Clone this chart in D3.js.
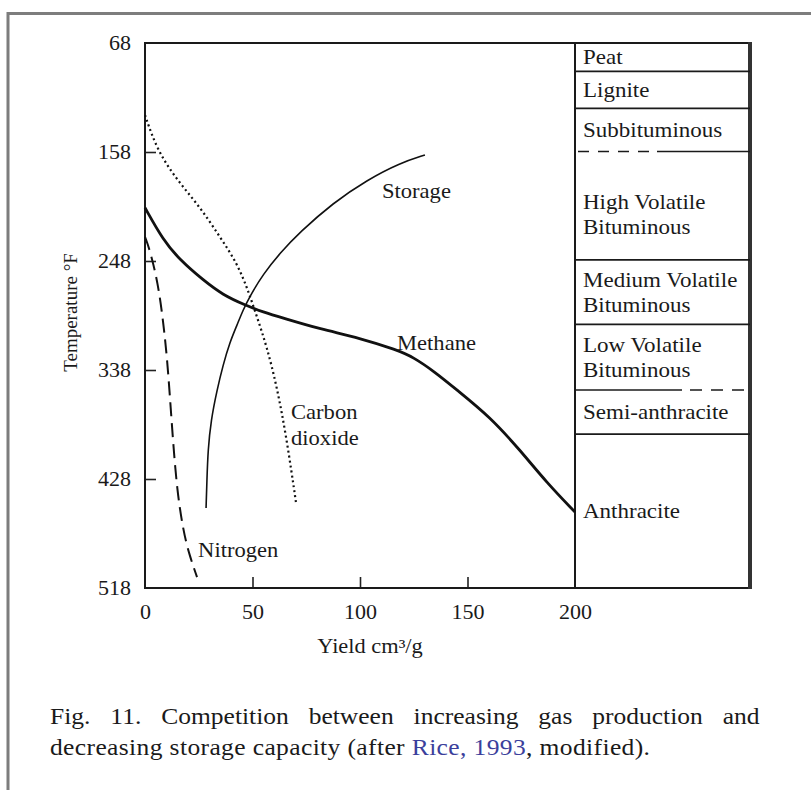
<!DOCTYPE html>
<html>
<head>
<meta charset="utf-8">
<script src="https://cdn.jsdelivr.net/npm/d3@7"></script>
<style>
body { margin: 0; background: #fff; }
svg text { font-family: "Liberation Serif", "Times New Roman", serif; fill: #1a1a1a; }
</style>
</head>
<body>
<div id="chart" style="width:811px;height:790px;"></div>
<script>

// axis ticks
const yieldTicks = [0, 50, 100, 150, 200];
const tempTicks = [68, 158, 248, 338, 428, 518];

// curves: yield (cm3/g) vs temperature (F)
const methaneYield = [0, 8.4, 16.3, 27, 36.3, 46.5, 54.9, 64.2, 81.4, 100, 117.2, 124.7, 134.9, 145.1, 160.5, 174.4, 187, 200];
const methaneTemp  = [204, 230.7, 247.2, 263.7, 276.1, 284.3, 290.1, 295.1, 304.2, 311.6, 321.5, 327.3, 339.7, 354.5, 376.8, 404.1, 431.3, 455.3];

const storageYield = [28.4, 28.8, 29.3, 30.7, 33.5, 36.3, 39.5, 42.8, 45.6, 48.8, 54.9, 62.8, 72.1, 87.4, 103.3, 118.6, 130.2];
const storageTemp  = [452, 428.9, 404.1, 379.3, 354.5, 333.9, 314.9, 300.9, 288.5, 277, 259, 241.4, 224.1, 200.1, 181.1, 167.1, 160.5];

const co2Yield = [0, 5.6, 14.9, 25.6, 34.9, 42.8, 47.9, 52.1, 56.7, 61.4, 66, 70.2];
const co2Temp  = [127.5, 156.4, 181.2, 203.4, 228.2, 249.7, 272, 294.3, 319, 352.1, 395.8, 447];

const nitrogenYield = [0, 2.3, 6, 8.4, 10.2, 11.6, 13, 14.9, 17.7, 20.5, 24.2];
const nitrogenTemp  = [228, 239, 266, 297, 327, 360, 396, 437, 470, 490, 509];

// coal rank column
const rankNames = [["Peat"], ["Lignite"], ["Subbituminous"], ["High Volatile", "Bituminous"],
    ["Medium Volatile", "Bituminous"], ["Low Volatile", "Bituminous"], ["Semi-anthracite"], ["Anthracite"]];
const rankTops = [68, 91.5, 122, 157.6, 247, 300.3, 354.5, 391];


class GasYieldVis {

    constructor(_parentElement) {
        this.parentElement = _parentElement;
        this.initVis();
    }

    initVis() {
        let vis = this;

        vis.width = 811;
        vis.height = 790;
        vis.plot = {left: 145, right: 575, top: 43, bottom: 588, rankRight: 750};

        vis.svg = d3.select("#" + vis.parentElement).append("svg")
            .attr("width", vis.width)
            .attr("height", vis.height);

        vis.x = d3.scaleLinear().domain([0, 200]).range([vis.plot.left, vis.plot.right]);
        vis.y = d3.scaleLinear().domain([68, 518]).range([vis.plot.top, vis.plot.bottom]);

        // page frame (top + left only)
        vis.svg.append("path")
            .attr("d", "M8,790 L8,13.5 L811,13.5")
            .attr("fill", "none")
            .attr("stroke", "#7d7d7d")
            .attr("stroke-width", 3);

        vis.drawAxes();
        vis.drawRanks();
        vis.drawCurves();
        vis.drawCaption();
    }

    stretch(sel, sx) {
        sel.each(function() {
            let t = d3.select(this);
            let x = +t.attr("x") || 0, y = +t.attr("y") || 0;
            t.attr("x", null).attr("y", null)
                .attr("transform", "translate(" + x + "," + y + ") scale(" + sx + ",1)");
        });
    }

    drawAxes() {
        let vis = this;
        let p = vis.plot;

        vis.yAxis = d3.axisLeft(vis.y)
            .tickValues(tempTicks)
            .tickSizeInner(-11)
            .tickSizeOuter(0)
            .tickPadding(14)
            .tickFormat(d3.format("d"));

        vis.xAxis = d3.axisBottom(vis.x)
            .tickValues(yieldTicks)
            .tickSizeInner(-11)
            .tickSizeOuter(0)
            .tickPadding(17)
            .tickFormat(d3.format("d"));

        let gy = vis.svg.append("g")
            .attr("class", "y-axis axis")
            .attr("transform", "translate(" + p.left + ",0)")
            .call(vis.yAxis);
        let gx = vis.svg.append("g")
            .attr("class", "x-axis axis")
            .attr("transform", "translate(0," + p.bottom + ")")
            .call(vis.xAxis);

        [gx, gy].forEach(g => {
            g.select(".domain").remove();
            g.selectAll(".tick line").attr("stroke", "#222").attr("stroke-width", 1.6);
            g.selectAll(".tick text").style("font-size", "20px");
            vis.stretch(g.selectAll(".tick text"), 1.1);
        });
        // no tick marks on the frame ends
        gy.selectAll(".tick line").filter(d => d === 68 || d === 518).remove();
        gx.selectAll(".tick line").filter(d => d === 0 || d === 200).remove();

        // plot frame
        vis.svg.append("rect")
            .attr("x", p.left).attr("y", p.top)
            .attr("width", p.rankRight - p.left)
            .attr("height", p.bottom - p.top)
            .attr("fill", "none")
            .attr("stroke", "#1a1a1a")
            .attr("stroke-width", 2);
        vis.svg.append("line")
            .attr("x1", p.right).attr("x2", p.right)
            .attr("y1", p.top).attr("y2", p.bottom)
            .attr("stroke", "#1a1a1a").attr("stroke-width", 2);
        vis.svg.append("line")
            .attr("x1", p.rankRight).attr("x2", p.rankRight)
            .attr("y1", p.top - 1).attr("y2", p.bottom + 1)
            .attr("stroke", "#333").attr("stroke-width", 4);

        // axis titles
        vis.svg.append("text")
            .attr("transform", "translate(77," + ((p.top + p.bottom) / 2 - 3) + ") rotate(-90)")
            .attr("text-anchor", "middle")
            .style("font-size", "19px")
            .text("Temperature \u00B0F");

        let xt = vis.svg.append("text")
            .attr("x", 370).attr("y", 653)
            .attr("text-anchor", "middle")
            .style("font-size", "20px")
            .text("Yield cm\u00B3/g");
        vis.stretch(xt, 1.12);
    }

    drawRanks() {
        let vis = this;
        let p = vis.plot;
        let bottoms = rankTops.slice(1).concat([518]);

        // boundaries between ranks; two of them are partly dashed
        rankTops.slice(1).forEach(t => {
            let yy = vis.y(t);
            let seg = (x1, x2, dash) => vis.svg.append("line")
                .attr("x1", x1).attr("x2", x2)
                .attr("y1", yy).attr("y2", yy)
                .attr("stroke", "#1a1a1a").attr("stroke-width", 1.7)
                .attr("stroke-dasharray", dash);
            if (t === 157.6) {
                seg(p.right + 3, 657, "11,9");
                seg(657, p.rankRight, null);
            } else if (t === 354.5) {
                seg(p.right, 682, null);
                seg(690, p.rankRight, "12,9");
            } else {
                seg(p.right, p.rankRight, null);
            }
        });

        let lineH = 25;
        rankNames.forEach((lines, i) => {
            let mid = (vis.y(rankTops[i]) + vis.y(bottoms[i])) / 2;
            if (lines[0] === "High Volatile") mid += 9;
            let t0 = mid - (lines.length - 1) * lineH / 2;
            lines.forEach((s, j) => {
                let tx = vis.svg.append("text")
                    .attr("x", p.right + 8)
                    .attr("y", t0 + j * lineH + 7)
                    .style("font-size", "20px")
                    .text(s);
                vis.stretch(tx, 1.15);
            });
        });
    }

    drawCurves() {
        let vis = this;

        vis.line = d3.line()
            .x(d => vis.x(d[0]))
            .y(d => vis.y(d[1]))
            .curve(d3.curveBasis);

        let series = [
            {xs: nitrogenYield, ts: nitrogenTemp, w: 2, dash: "14,7"},
            {xs: co2Yield, ts: co2Temp, w: 2.2, dash: "2,3"},
            {xs: storageYield, ts: storageTemp, w: 1.6, dash: null},
            {xs: methaneYield, ts: methaneTemp, w: 2.8, dash: null}
        ];

        series.forEach(s => {
            vis.svg.append("path")
                .datum(d3.zip(s.xs, s.ts))
                .attr("d", vis.line)
                .attr("fill", "none")
                .attr("stroke", "#111")
                .attr("stroke-width", s.w)
                .attr("stroke-dasharray", s.dash);
        });

        // curve labels, placed in data coordinates
        let labels = [
            {lines: ["Storage"], x: 110.2, t: 190.2},
            {lines: ["Methane"], x: 117.2, t: 315.7},
            {lines: ["Carbon", "dioxide"], x: 67.9, t: 372.7},
            {lines: ["Nitrogen"], x: 24.7, t: 486.7}
        ];
        labels.forEach(l => {
            l.lines.forEach((s, j) => {
                let tx = vis.svg.append("text")
                    .attr("x", vis.x(l.x))
                    .attr("y", vis.y(l.t) + j * 26 + 7)
                    .style("font-size", "20px")
                    .text(s);
                vis.stretch(tx, 1.13);
            });
        });
    }

    drawCaption() {
        let vis = this;
        let sx = 1.11;

        let cap2 = vis.svg.append("text")
            .attr("x", 50).attr("y", 755)
            .attr("textLength", 600 / sx)
            .attr("lengthAdjust", "spacing")
            .style("font-size", "23px");
        cap2.append("tspan").text("decreasing storage capacity (after ");
        cap2.append("tspan").style("fill", "#3b3f9c").text("Rice, 1993");
        cap2.append("tspan").text(", modified).");
        vis.stretch(cap2, sx);

        let words = "Fig. 11. Competition between increasing gas production and";
        let cap1 = vis.svg.append("text")
            .attr("x", 50).attr("y", 724)
            .style("font-size", "23px")
            .text(words);
        let natural = cap1.node().getComputedTextLength();
        let gaps = words.split(" ").length - 1;
        cap1.attr("word-spacing", (710 / sx - natural) / gaps);
        vis.stretch(cap1, sx);
    }
}

new GasYieldVis("chart");

</script>
</body>
</html>
